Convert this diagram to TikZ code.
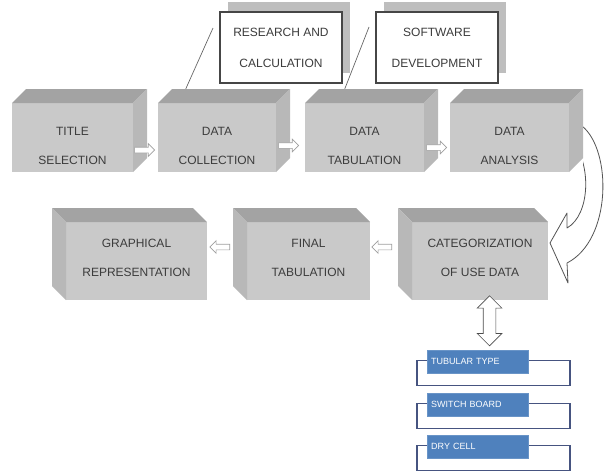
\documentclass[tikz,border=0pt]{standalone}
\usepackage{fontspec}
\setmainfont{Liberation Sans}
\usetikzlibrary{positioning}
\usetikzlibrary{calc}
\usetikzlibrary{shapes.arrows}
\usetikzlibrary{shadows}
\definecolor{cubefront}{RGB}{201,201,201}
\definecolor{cubetop}{RGB}{163,163,163}
\definecolor{cubeside}{RGB}{184,184,184}
\definecolor{cubeink}{RGB}{60,60,60}
\definecolor{calloutshade}{RGB}{190,190,190}
\definecolor{tagblue}{RGB}{79,129,189}
\definecolor{tagline}{RGB}{70,84,128}
\tikzset{cube/.style = {inner sep = 0, fill = white}}
\tikzset{cuber/.style = {cube, minimum height = 83pt, path picture = {
  \fill [cubefront] ([yshift = -14pt] path picture bounding box.north west) rectangle ([xshift = -14pt] path picture bounding box.south east);
  \fill [cubetop] ([xshift = 14pt] path picture bounding box.north west) -- (path picture bounding box.north east) -- ([shift = {(-14pt, -14pt)}] path picture bounding box.north east) -- ([yshift = -14pt] path picture bounding box.north west) -- cycle;
  \fill [cubeside] (path picture bounding box.north east) -- ([yshift = 14pt] path picture bounding box.south east) -- ([xshift = -14pt] path picture bounding box.south east) -- ([shift = {(-14pt, -14pt)}] path picture bounding box.north east) -- cycle;
}}}
\tikzset{cubel/.style = {cube, minimum height = 92pt, path picture = {
  \fill [cubefront] ([shift = {(14pt, -14pt)}] path picture bounding box.north west) rectangle (path picture bounding box.south east);
  \fill [cubetop] (path picture bounding box.north west) -- ([xshift = -14pt] path picture bounding box.north east) -- ([yshift = -14pt] path picture bounding box.north east) -- ([shift = {(14pt, -14pt)}] path picture bounding box.north west) -- cycle;
  \fill [cubeside] (path picture bounding box.north west) -- ([shift = {(14pt, -14pt)}] path picture bounding box.north west) -- ([xshift = 14pt] path picture bounding box.south west) -- ([yshift = 14pt] path picture bounding box.south west) -- cycle;
}}}
\tikzset{cubetext/.style = {align = center, text = cubeink, inner sep = 0, font = \fontsize{12}{29}\selectfont}}
\tikzset{callout/.style = {draw = gray!55!black, line width = 1.5pt, fill = white, minimum width = 122pt, minimum height = 71pt, align = center, text = cubeink, font = \fontsize{12}{31}\selectfont, general shadow = {fill = calloutshade, shadow xshift = 8pt, shadow yshift = 10pt}}}
\tikzset{calloutline/.style = {draw = gray!80!black, line width = 0.7pt}}
\tikzset{hollow/.style = {single arrow, draw = gray!75, fill = white, line width = 0.7pt, inner sep = 2.5pt, minimum height = 20pt, single arrow head extend = 3.5pt}}
\tikzset{updown/.style = {double arrow, shape border rotate = 90, draw = gray!60!black, fill = white, line width = 0.7pt, inner sep = 6pt, minimum height = 50pt, double arrow head extend = 6pt}}
\tikzset{bigturn/.style = {draw = gray!65!black, fill = white, line width = 0.8pt, line join = round}}
\tikzset{tagback/.style = {draw = tagline, line width = 1.5pt, fill = white, minimum width = 153pt, minimum height = 25pt}}
\tikzset{tag/.style = {fill = tagblue, draw = tagblue!85!white, anchor = north west, minimum width = 101pt, minimum height = 23pt, text width = 93pt, align = left, text = white, font = \fontsize{9}{10}\selectfont}}

\begin{document}
\begin{tikzpicture}[x = 1pt, y = -1pt]
  \useasboundingbox (0, 0) rectangle (605, 474);
  % big bent arrow down the right side
  \draw [bigturn] (550, 243) -- (567, 213) -- (567, 228) .. controls (590, 215) and (592, 165) .. (572, 140) -- (582, 126) .. controls (612, 150) and (612, 240) .. (567, 263) -- (568, 283) -- cycle;
  % upper row
  \foreach \name/\x/\w/\txtup/\txtdown in {title/79.5/135/TITLE/SELECTION, collection/224/132/DATA/COLLECTION, tabulation/371.5/133/DATA/TABULATION, analysis/516.5/133/DATA/ANALYSIS} {
    \node [cuber, minimum width = \w pt] (\name) at (\x, 130.5) {};
    \node [cubetext] (\name-text) at ([shift = {(-7pt, -15pt)}] \name.center) {\txtup\\\txtdown};
  }
  % lower row
  \foreach \name/\x/\w/\txtup/\txtdown in {graphical/129.5/155/GRAPHICAL/REPRESENTATION, final/301.5/137/FINAL/TABULATION, categorization/473/150/CATEGORIZATION/OF USE DATA} {
    \node [cubel, minimum width = \w pt] (\name) at (\x, 254) {};
    \node [cubetext] (\name-text) at ([shift = {(7pt, -4pt)}] \name.center) {\txtup\\\txtdown};
  }
  \node [hollow] (arrow-a) at ($(title.east) + (-4, 19.5)$) {};
  \node [hollow] (arrow-b) at ($(collection.east) + (-3, 15)$) {};
  \node [hollow] (arrow-c) at ($(tabulation.east) + (-3, 17)$) {};
  \node [hollow, shape border rotate = 180] (arrow-d) at ($(graphical.east) + (14, -7)$) {};
  \node [hollow, shape border rotate = 180] (arrow-e) at ($(final.east) + (13, -7)$) {};
  % callouts
  \node [callout] (research) at (281, 47.5) {RESEARCH AND\\CALCULATION};
  \node [callout] (software) at (437, 47.5) {SOFTWARE\\DEVELOPMENT};
  \coordinate (research-tail) at (213, 28);
  \coordinate (software-tail) at (369, 27);
  \draw [calloutline] (research-tail) -- ([xshift = 28pt] collection.north west);
  \draw [calloutline] (software-tail) -- ([xshift = 40pt] tabulation.north west);
  % sub categories
  \foreach \name/\y/\txt in {fuse/350/TUBULAR TYPE, switch/393/SWITCH BOARD, cell/435/DRY CELL} {
    \node [tagback] (\name-back) at (493.5, {\y + 23}) {};
    \node [tag] (\name) at (427, \y) {\txt};
  }
  \node [updown] (link) at ($(fuse-back.north) + (-4, -39)$) {};
\end{tikzpicture}
\end{document}
